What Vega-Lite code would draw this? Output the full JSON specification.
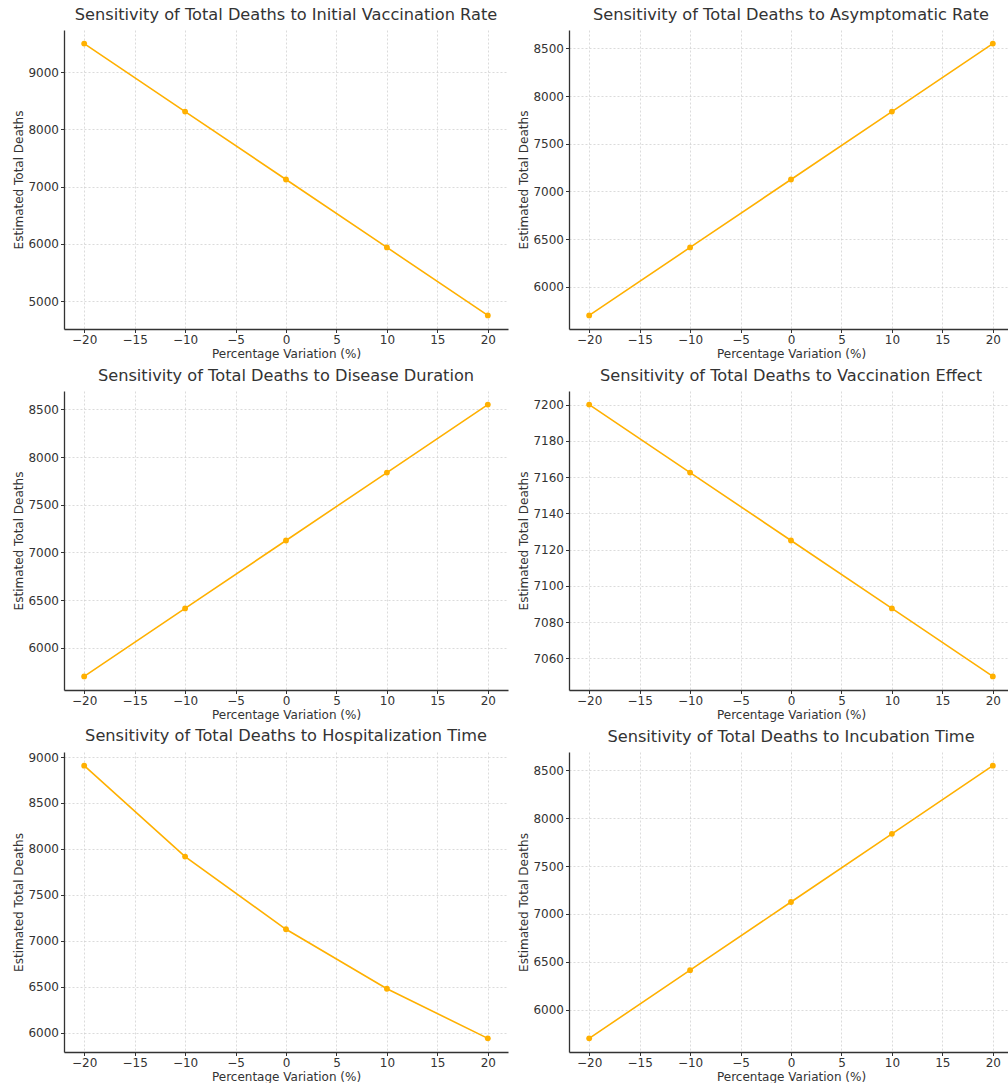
{
  "$schema": "https://vega.github.io/schema/vega-lite/v6.json",
  "background": "white",
  "padding": {"left": 12, "top": 6, "right": 0, "bottom": 0},
  "autosize": {"type": "pad"},
  "datasets": {
    "sens": [
      {"param": "Initial Vaccination Rate", "variation": -20, "deaths": 9500},
      {"param": "Initial Vaccination Rate", "variation": -10, "deaths": 8312.5},
      {"param": "Initial Vaccination Rate", "variation": 0, "deaths": 7125},
      {"param": "Initial Vaccination Rate", "variation": 10, "deaths": 5937.5},
      {"param": "Initial Vaccination Rate", "variation": 20, "deaths": 4750},
      {"param": "Asymptomatic Rate", "variation": -20, "deaths": 5700},
      {"param": "Asymptomatic Rate", "variation": -10, "deaths": 6412.5},
      {"param": "Asymptomatic Rate", "variation": 0, "deaths": 7125},
      {"param": "Asymptomatic Rate", "variation": 10, "deaths": 7837.5},
      {"param": "Asymptomatic Rate", "variation": 20, "deaths": 8550},
      {"param": "Disease Duration", "variation": -20, "deaths": 5700},
      {"param": "Disease Duration", "variation": -10, "deaths": 6412.5},
      {"param": "Disease Duration", "variation": 0, "deaths": 7125},
      {"param": "Disease Duration", "variation": 10, "deaths": 7837.5},
      {"param": "Disease Duration", "variation": 20, "deaths": 8550},
      {"param": "Vaccination Effect", "variation": -20, "deaths": 7200},
      {"param": "Vaccination Effect", "variation": -10, "deaths": 7162.5},
      {"param": "Vaccination Effect", "variation": 0, "deaths": 7125},
      {"param": "Vaccination Effect", "variation": 10, "deaths": 7087.5},
      {"param": "Vaccination Effect", "variation": 20, "deaths": 7050},
      {"param": "Hospitalization Time", "variation": -20, "deaths": 8906.25},
      {"param": "Hospitalization Time", "variation": -10, "deaths": 7916.7},
      {"param": "Hospitalization Time", "variation": 0, "deaths": 7125},
      {"param": "Hospitalization Time", "variation": 10, "deaths": 6477.3},
      {"param": "Hospitalization Time", "variation": 20, "deaths": 5937.5},
      {"param": "Incubation Time", "variation": -20, "deaths": 5700},
      {"param": "Incubation Time", "variation": -10, "deaths": 6412.5},
      {"param": "Incubation Time", "variation": 0, "deaths": 7125},
      {"param": "Incubation Time", "variation": 10, "deaths": 7837.5},
      {"param": "Incubation Time", "variation": 20, "deaths": 8550}
    ]
  },
  "data": {"name": "sens"},
  "columns": 2,
  "spacing": {"row": 62, "column": 61},
  "bounds": "flush",
  "concat": [
    {
      "title": "Sensitivity of Total Deaths to Initial Vaccination Rate",
      "width": 444, "height": 299,
      "transform": [{"filter": "datum.param === 'Initial Vaccination Rate'"}],
      "encoding": {
        "x": {"field": "variation", "type": "quantitative", "title": "Percentage Variation (%)", "scale": {"domain": [-22, 22], "nice": false, "zero": false}, "axis": {"values": [-20, -15, -10, -5, 0, 5, 10, 15, 20]}},
        "y": {"field": "deaths", "type": "quantitative", "title": "Estimated Total Deaths", "scale": {"domain": [4512.5, 9737.5], "nice": false, "zero": false}, "axis": {"values": [5000, 6000, 7000, 8000, 9000], "format": "d"}}
      },
      "layer": [{"mark": {"type": "line"}}, {"mark": {"type": "point"}}]
    },
    {
      "title": "Sensitivity of Total Deaths to Asymptomatic Rate",
      "width": 444, "height": 299,
      "transform": [{"filter": "datum.param === 'Asymptomatic Rate'"}],
      "encoding": {
        "x": {"field": "variation", "type": "quantitative", "title": "Percentage Variation (%)", "scale": {"domain": [-22, 22], "nice": false, "zero": false}, "axis": {"values": [-20, -15, -10, -5, 0, 5, 10, 15, 20]}},
        "y": {"field": "deaths", "type": "quantitative", "title": "Estimated Total Deaths", "scale": {"domain": [5557.5, 8692.5], "nice": false, "zero": false}, "axis": {"values": [6000, 6500, 7000, 7500, 8000, 8500], "format": "d"}}
      },
      "layer": [{"mark": {"type": "line"}}, {"mark": {"type": "point"}}]
    },
    {
      "title": "Sensitivity of Total Deaths to Disease Duration",
      "width": 444, "height": 299,
      "transform": [{"filter": "datum.param === 'Disease Duration'"}],
      "encoding": {
        "x": {"field": "variation", "type": "quantitative", "title": "Percentage Variation (%)", "scale": {"domain": [-22, 22], "nice": false, "zero": false}, "axis": {"values": [-20, -15, -10, -5, 0, 5, 10, 15, 20]}},
        "y": {"field": "deaths", "type": "quantitative", "title": "Estimated Total Deaths", "scale": {"domain": [5557.5, 8692.5], "nice": false, "zero": false}, "axis": {"values": [6000, 6500, 7000, 7500, 8000, 8500], "format": "d"}}
      },
      "layer": [{"mark": {"type": "line"}}, {"mark": {"type": "point"}}]
    },
    {
      "title": "Sensitivity of Total Deaths to Vaccination Effect",
      "width": 444, "height": 299,
      "transform": [{"filter": "datum.param === 'Vaccination Effect'"}],
      "encoding": {
        "x": {"field": "variation", "type": "quantitative", "title": "Percentage Variation (%)", "scale": {"domain": [-22, 22], "nice": false, "zero": false}, "axis": {"values": [-20, -15, -10, -5, 0, 5, 10, 15, 20]}},
        "y": {"field": "deaths", "type": "quantitative", "title": "Estimated Total Deaths", "scale": {"domain": [7042.5, 7207.5], "nice": false, "zero": false}, "axis": {"values": [7060, 7080, 7100, 7120, 7140, 7160, 7180, 7200], "format": "d"}}
      },
      "layer": [{"mark": {"type": "line"}}, {"mark": {"type": "point"}}]
    },
    {
      "title": "Sensitivity of Total Deaths to Hospitalization Time",
      "width": 444, "height": 300,
      "transform": [{"filter": "datum.param === 'Hospitalization Time'"}],
      "encoding": {
        "x": {"field": "variation", "type": "quantitative", "title": "Percentage Variation (%)", "scale": {"domain": [-22, 22], "nice": false, "zero": false}, "axis": {"values": [-20, -15, -10, -5, 0, 5, 10, 15, 20]}},
        "y": {"field": "deaths", "type": "quantitative", "title": "Estimated Total Deaths", "scale": {"domain": [5789.1, 9054.7], "nice": false, "zero": false}, "axis": {"values": [6000, 6500, 7000, 7500, 8000, 8500, 9000], "format": "d"}}
      },
      "layer": [{"mark": {"type": "line"}}, {"mark": {"type": "point"}}]
    },
    {
      "title": "Sensitivity of Total Deaths to Incubation Time",
      "width": 444, "height": 300,
      "transform": [{"filter": "datum.param === 'Incubation Time'"}],
      "encoding": {
        "x": {"field": "variation", "type": "quantitative", "title": "Percentage Variation (%)", "scale": {"domain": [-22, 22], "nice": false, "zero": false}, "axis": {"values": [-20, -15, -10, -5, 0, 5, 10, 15, 20]}},
        "y": {"field": "deaths", "type": "quantitative", "title": "Estimated Total Deaths", "scale": {"domain": [5557.5, 8692.5], "nice": false, "zero": false}, "axis": {"values": [6000, 6500, 7000, 7500, 8000, 8500], "format": "d"}}
      },
      "layer": [{"mark": {"type": "line"}}, {"mark": {"type": "point"}}]
    }
  ],
  "config": {
    "font": "DejaVu Sans",
    "view": {"stroke": null},
    "line": {"color": "#ffb000", "strokeWidth": 1.6},
    "point": {"color": "#ffb000", "filled": true, "opacity": 1, "size": 34},
    "title": {"fontSize": 16.2, "fontWeight": "normal", "color": "#333333", "anchor": "middle", "offset": 7, "font": "DejaVu Sans"},
    "axis": {
      "domainColor": "#333333", "domainWidth": 1.3,
      "tickColor": "#333333", "tickSize": 3.5, "tickWidth": 1,
      "labelColor": "#333333", "labelFontSize": 12, "labelPadding": 2, "labelFont": "DejaVu Sans",
      "titleColor": "#333333", "titleFontSize": 12, "titleFontWeight": "normal", "titleFont": "DejaVu Sans",
      "gridColor": "#cccccc", "gridDash": [2, 2], "gridWidth": 0.7,
      "labelFlush": false, "labelOverlap": false
    },
    "axisX": {"titlePadding": 3},
    "axisY": {"titlePadding": 2}
  }
}
